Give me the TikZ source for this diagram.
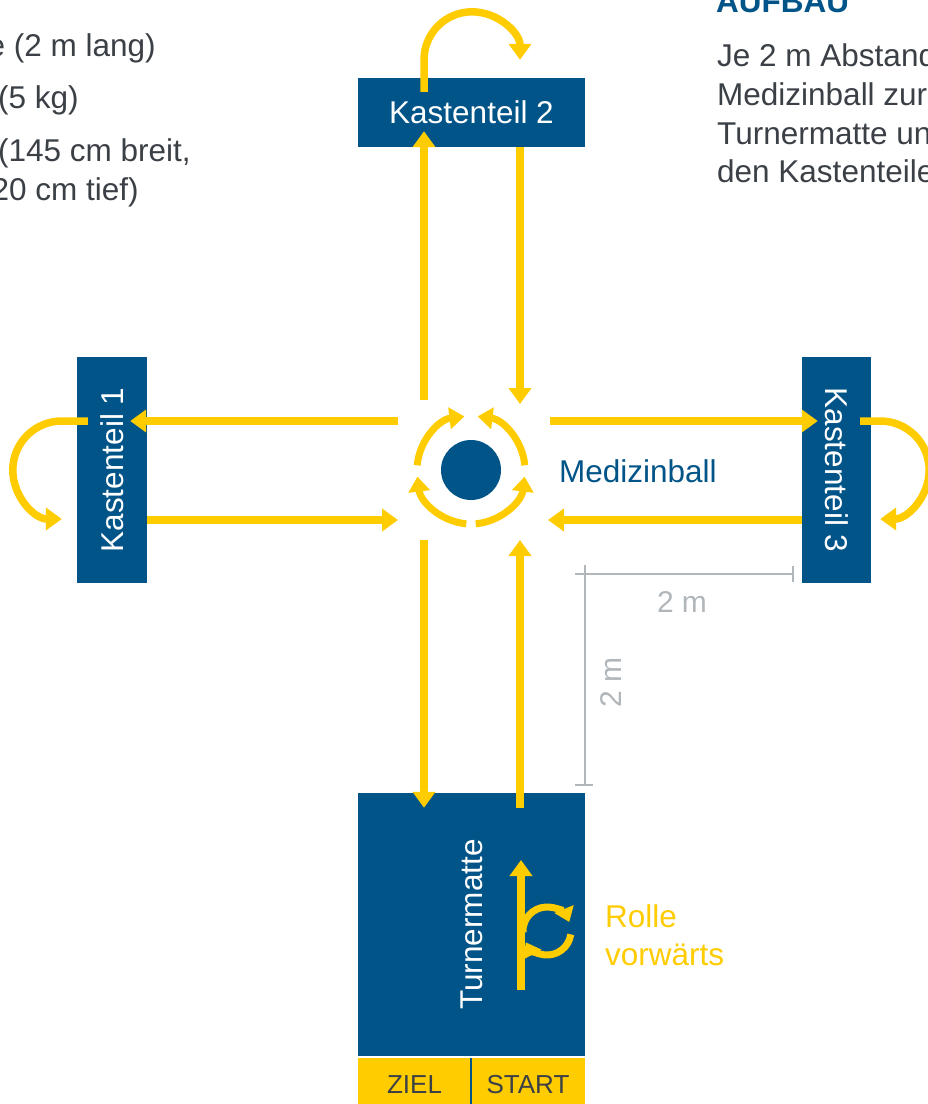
\documentclass[tikz,border=0pt]{standalone}
\usepackage{fontspec}
\setmainfont{Liberation Sans}
\usepackage{graphicx}
\usetikzlibrary{arrows.meta,positioning}
\definecolor{blau}{HTML}{005488}
\definecolor{gelb}{HTML}{FFCC00}
\definecolor{schrift}{HTML}{3B4046}
\definecolor{massgrau}{HTML}{B1B6BB}

\begin{document}
\begin{tikzpicture}[x=1pt, y=1pt,
  font=\fontsize{31.5}{38.5}\selectfont,
  kasten/.style={rectangle, fill=blau, text=white, inner sep=0pt},
  feld/.style={rectangle, fill=gelb, text=schrift, inner sep=0pt, minimum height=54pt, font=\fontsize{26}{31}\selectfont},
  pfeil/.style={draw=gelb, line width=7.5pt, -{Triangle[width=22pt,length=16pt]}},
  kreispfeil/.style={draw=gelb, line width=7pt, -{Triangle[width=21pt,length=15pt]}},
  rollpfeil/.style={draw=gelb, line width=7pt, -{Triangle[width=20pt,length=14pt]}},
  mass/.style={draw=massgrau, line width=2pt},
  zeile/.style={anchor=base west, inner sep=0pt},]
  \useasboundingbox (0,0) rectangle (928,-1104);
  \clip (0,0) rectangle (928,-1104);
  \fill[white] (0,0) rectangle (928,-1104);

  % Texte oben
  \node[zeile, text=schrift] (liste1) at (-12.5,-56.5) {e (2 m lang)};
  \node[zeile, text=schrift] (liste2) at (-2,-108.5) {(5 kg)};
  \node[zeile, text=schrift] (liste3) at (-2,-161) {(145 cm breit,};
  \node[zeile, text=schrift] (liste4) at (-8.5,-200) {20 cm tief)};
  \node[zeile, text=blau, font=\fontsize{31.5}{38.5}\bfseries] (aufbau) at (716,-12) {AUFBAU};
  \node[zeile, text=schrift] (info1) at (717,-66) {Je 2 m Abstand};
  \node[zeile, text=schrift] (info2) at (717,-105) {Medizinball zur};
  \node[zeile, text=schrift] (info3) at (717,-144) {Turnermatte un};
  \node[zeile, text=schrift] (info4) at (717,-182) {den Kastenteile};

  % Geraete
  \node[kasten, minimum width=227pt, minimum height=69pt] (k2) at (471.5,-112.5) {Kastenteil 2};
  \node[kasten, minimum width=70pt, minimum height=226pt] (k1) at (112,-470) {\rotatebox{90}{Kastenteil 1}};
  \node[kasten, minimum width=69pt, minimum height=226pt] (k3) at (836.5,-470) {\rotatebox{-90}{Kastenteil 3}};
  \node[kasten, minimum width=227pt, minimum height=263pt] (matte) at (471.5,-924.5) {\rotatebox{90}{Turnermatte}};
  \node[feld, minimum width=113pt] (ziel) at (414.5,-1085) {ZIEL};
  \node[feld, minimum width=114pt] (start) at (528,-1085) {START};
  \draw[blau, line width=2pt] (ziel.north east) -- (ziel.south east);

  \node[circle, fill=blau, minimum size=60pt, inner sep=0pt] (ball) at (471,-470) {};
  \node[anchor=west, inner sep=0pt, text=blau] (balltext) at (559,-471) {Medizinball};

  % Wege
  \coordinate (nl) at ([shift={(-47,70)}]ball.center);
  \coordinate (nr) at ([shift={(49,66)}]ball.center);
  \coordinate (wo) at ([shift={(-73,49)}]ball.center);
  \coordinate (wu) at ([shift={(-73,-50)}]ball.center);
  \coordinate (oo) at ([shift={(79,49)}]ball.center);
  \coordinate (ou) at ([shift={(77,-50)}]ball.center);
  \coordinate (sl) at ([shift={(-47,-70)}]ball.center);
  \coordinate (sr) at ([shift={(49,-70)}]ball.center);

  \draw[pfeil] (nl) -- ([xshift=-47.5pt,yshift=16pt]k2.south);
  \draw[pfeil] ([xshift=48.5pt]k2.south) -- (nr);
  \draw[pfeil] (wo) -- ([xshift=-17pt,yshift=49pt]k1.east);
  \draw[pfeil] ([yshift=-50pt]k1.east) -- (wu);
  \draw[pfeil] (oo) -- ([xshift=16pt,yshift=49pt]k3.west);
  \draw[pfeil] ([yshift=-50pt]k3.west) -- (ou);
  \draw[pfeil] (sl) -- ([xshift=-47.5pt,yshift=-15pt]matte.north);
  \draw[pfeil] ([xshift=48.5pt,yshift=-15pt]matte.north) -- (sr);

  % Drehungen an den Kastenteilen
  \draw[pfeil] ([xshift=-47.5pt,yshift=-14pt]k2.north) -- ++(0,32) arc[start angle=180, end angle=0, radius=48];
  \draw[pfeil] ([xshift=11pt,yshift=49pt]k1.west) -- ++(-26,0) arc[start angle=90, end angle=270, radius=49];
  \draw[pfeil] ([xshift=-11pt,yshift=49pt]k3.east) -- ++(20,0) arc[start angle=90, end angle=-90, radius=49];

  % Kreis um den Ball
  \draw[kreispfeil] ([shift={(175:54)}]ball.center) arc[start angle=175, end angle=97, radius=54];
  \draw[kreispfeil] ([shift={(5:54)}]ball.center) arc[start angle=5, end angle=83, radius=54];
  \draw[kreispfeil] ([shift={(-95:54)}]ball.center) arc[start angle=-95, end angle=-173, radius=54];
  \draw[kreispfeil] ([shift={(-85:54)}]ball.center) arc[start angle=-85, end angle=-7, radius=54];

  % Rolle
  \coordinate (rollmitte) at ([shift={(75.5,-6.5)}]matte.center);
  \draw[pfeil] ([shift={(49.5,-65.5)}]matte.center) -- ++(0,130);
  \draw[rollpfeil] ([shift={(183:24)}]rollmitte) arc[start angle=183, end angle=22, radius=24];
  \draw[rollpfeil] ([shift={(-8:24)}]rollmitte) arc[start angle=-8, end angle=-152, radius=24];
  \node[zeile, text=gelb] (rolle1) at (605,-927) {Rolle};
  \node[zeile, text=gelb] (rolle2) at ([yshift=-38.5pt]rolle1.base west) {vorwärts};

  % Abstaende
  \coordinate (m0) at (585,-574);
  \coordinate (m1) at (793,-574);
  \coordinate (m2) at (585,-785);
  \draw[mass] ([xshift=-10pt]m0) -- (m1);
  \draw[mass] ([yshift=8pt]m1) -- ([yshift=-8pt]m1);
  \draw[mass] ([yshift=9pt]m0) -- (m2);
  \draw[mass] ([xshift=-10pt]m2) -- ([xshift=8pt]m2);
  \node[text=massgrau, inner sep=0pt, font=\fontsize{30}{36}\selectfont] (masstext1) at (682,-602.5) {2 m};
  \node[text=massgrau, inner sep=0pt, font=\fontsize{30}{36}\selectfont, rotate=90] (masstext2) at (611.5,-682) {2 m};
\end{tikzpicture}
\end{document}
